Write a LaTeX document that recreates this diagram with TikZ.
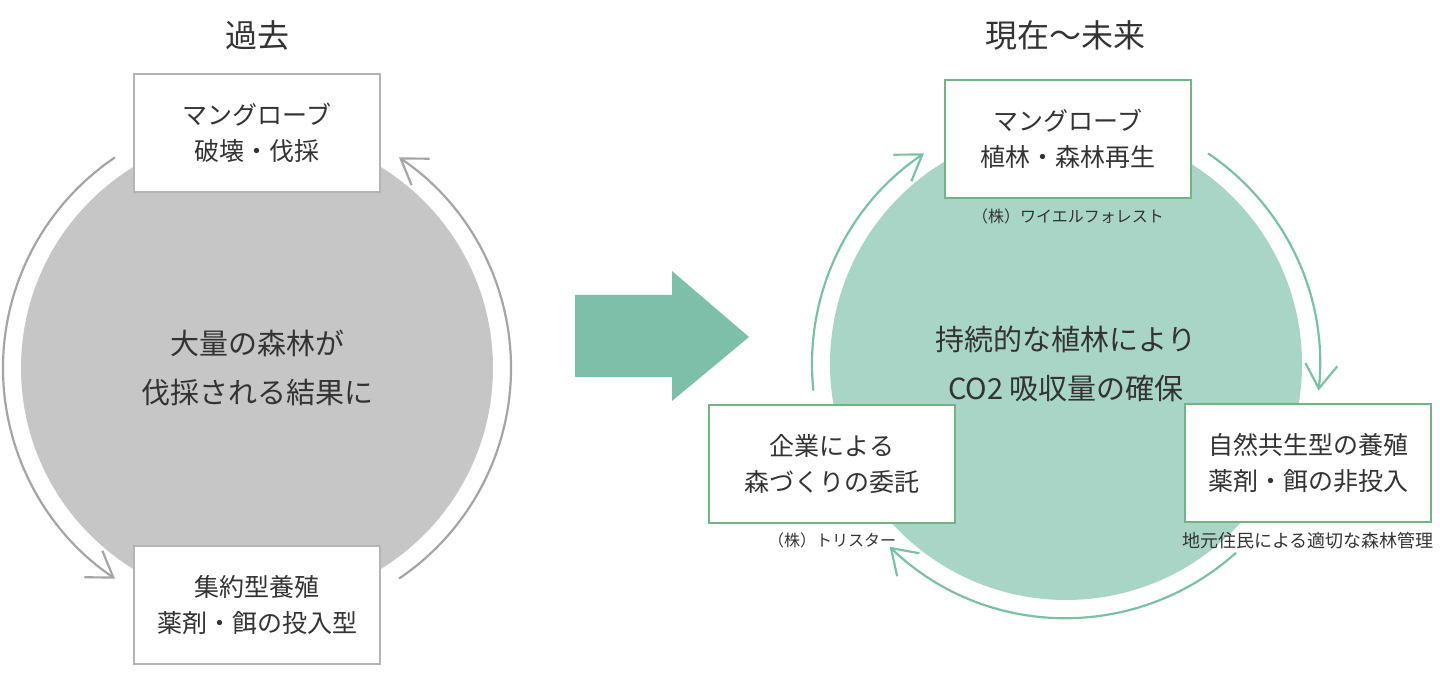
\documentclass[tikz,border=0pt]{standalone}
\usepackage{fontspec}
\newfontfamily\jpfont{Noto Sans CJK JP}
\usetikzlibrary{arrows.meta, positioning}
\definecolor{grayFill}{HTML}{C6C6C6}
\definecolor{grayLine}{HTML}{B4B4B4}
\definecolor{grayArc}{HTML}{A5A5A5}
\definecolor{greenFill}{HTML}{A9D5C7}
\definecolor{greenLine}{HTML}{72B485}
\definecolor{greenArc}{HTML}{7CC0A4}
\definecolor{bigArrow}{HTML}{7DBFA8}
\definecolor{textDark}{HTML}{333333}

\begin{document}
\begin{tikzpicture}[
    x=1pt, y=1pt,
    font=\jpfont,
    text=textDark,
    title/.style={
        font=\jpfont\fontsize{32}{38}\selectfont
    },
    ring/.style={
        circle,
        minimum size=472pt,
        inner sep=0pt,
        draw=none,
        align=center,
        font=\jpfont\fontsize{29}{49}\selectfont
    },
    boxGray/.style={
        rectangle,
        minimum width=246pt,
        minimum height=118pt,
        fill=white,
        draw=grayLine,
        line width=2pt,
        align=center,
        font=\jpfont\fontsize{25}{36}\selectfont
    },
    boxGreen/.style={
        rectangle,
        minimum width=246pt,
        minimum height=118pt,
        fill=white,
        draw=greenLine,
        line width=2pt,
        align=center,
        font=\jpfont\fontsize{25}{36}\selectfont
    },
    note/.style={
        inner sep=0pt,
        font=\jpfont\fontsize{16}{20}\selectfont
    },
    arcGray/.style={
        draw=grayArc,
        line width=2.2pt,
        -{Straight Barb[length=24pt, width=32pt]}
    },
    arcGreen/.style={
        draw=greenArc,
        line width=2.2pt,
        -{Straight Barb[length=24pt, width=32pt]}
    }
]
\useasboundingbox (0,0) rectangle (1440,676);

% Avant
\node[title] (past) at (257,641) {過去};
\node[ring, fill=grayFill] (pastC) at (257,308) {大量の森林が\\伐採される結果に};

\draw[arcGray] ([shift={(124:254)}]pastC.center) arc[start angle=124, end angle=236, radius=254];
\draw[arcGray] ([shift={(-56:254)}]pastC.center) arc[start angle=-56, end angle=56, radius=254];

\node[boxGray] (cut) at (257,543) {マングローブ\\破壊・伐採};
\node[boxGray] (farm) at (257,71) {集約型養殖\\薬剤・餌の投入型};

% Fleche
\fill[bigArrow] (575,381) -- (672,381) -- (672,405) -- (749,339)
    -- (672,275) -- (672,299) -- (575,299) -- cycle;

% Apres
\node[title] (now) at (1065,641) {現在〜未来};
\node[ring, fill=greenFill] (nowC) at (1066,312) {持続的な植林により\\CO2 吸収量の確保};

\draw[arcGreen] ([shift={(186:254)}]nowC.center) arc[start angle=186, end angle=124, radius=254];
\draw[arcGreen] ([shift={(56:254)}]nowC.center) arc[start angle=56, end angle=-6, radius=254];
\draw[arcGreen] ([shift={(-48:254)}]nowC.center) arc[start angle=-48, end angle=-134, radius=254];

\node[boxGreen] (plant) at (1068,537) {マングローブ\\植林・森林再生};
\node[boxGreen] (firm) at (832,212) {企業による\\森づくりの委託};
\node[boxGreen] (eco) at (1308,213) {自然共生型の養殖\\薬剤・餌の非投入};

\node[note, below=10pt of plant] (wyl) {（株）ワイエルフォレスト};
\node[note, below=9pt of firm] (tri) {（株）トリスター};
\node[note, font=\jpfont\fontsize{18}{20}\selectfont, below=9pt of eco] (local) {地元住民による適切な森林管理};

\end{tikzpicture}
\end{document}
